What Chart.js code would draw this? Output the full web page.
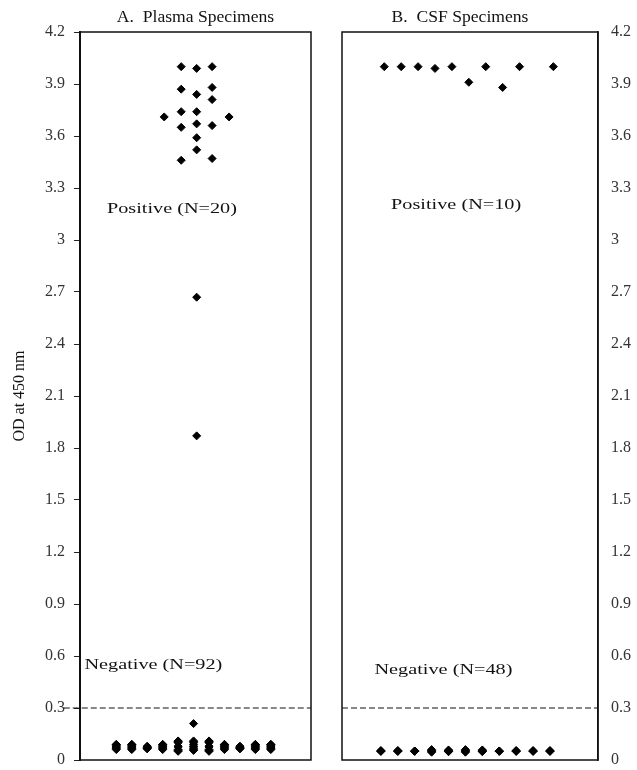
<!DOCTYPE html>
<html>
<head>
<meta charset="utf-8">
<script src="https://cdn.jsdelivr.net/npm/chart.js@4.4.1/dist/chart.umd.min.js"></script>
<style>
  html, body { margin: 0; padding: 0; background: #fff; }
  #wrap { position: relative; width: 637px; height: 770px; }
  canvas { position: absolute; top: 0; }
  #plasma { left: 0; }
  #csf { left: 320px; }
</style>
</head>
<body>
<div id="wrap">
  <canvas id="plasma" width="320" height="770"></canvas>
  <canvas id="csf" width="317" height="770"></canvas>
</div>
<script>
// y axis ticks (OD at 450 nm)
const yTicks = [0, 0.3, 0.6, 0.9, 1.2, 1.5, 1.8, 2.1, 2.4, 2.7, 3, 3.3, 3.6, 3.9, 4.2];
const cutoff = 0.3;

// A. Plasma – positive specimens, by column position
const plasmaPosCols = [3.1, 4.2, 5.2, 6.2, 7.3];
const plasmaPosVals = [
  [3.71],
  [4.00, 3.87, 3.74, 3.65, 3.46],
  [3.99, 3.84, 3.74, 3.67, 3.59, 3.52, 2.67, 1.87],
  [4.00, 3.88, 3.81, 3.66, 3.47],
  [3.71]
];

// A. Plasma – negative specimens (columns 0..10)
const plasmaNegVals = [
  [0.06, 0.065, 0.07, 0.075, 0.08, 0.085, 0.09, 0.09],
  [0.06, 0.065, 0.07, 0.075, 0.08, 0.085, 0.09, 0.09],
  [0.065, 0.065, 0.07, 0.07, 0.07, 0.075, 0.075, 0.08],
  [0.06, 0.065, 0.07, 0.075, 0.08, 0.085, 0.09, 0.09],
  [0.05, 0.055, 0.06, 0.075, 0.08, 0.1, 0.105, 0.105, 0.11],
  [0.055, 0.06, 0.065, 0.075, 0.08, 0.09, 0.1, 0.105, 0.11, 0.21],
  [0.05, 0.055, 0.06, 0.075, 0.08, 0.1, 0.105, 0.105, 0.11],
  [0.06, 0.065, 0.07, 0.075, 0.08, 0.085, 0.09, 0.09],
  [0.065, 0.065, 0.07, 0.07, 0.07, 0.075, 0.075, 0.08],
  [0.06, 0.065, 0.07, 0.075, 0.08, 0.085, 0.09, 0.09],
  [0.06, 0.065, 0.07, 0.075, 0.08, 0.085, 0.09, 0.09]
];

// B. CSF – positive specimens
const csfPosX = [0.2, 1.2, 2.2, 3.2, 4.2, 5.2, 6.2, 7.2, 8.2, 10.2];
const csfPosY = [4.00, 4.00, 4.00, 3.99, 4.00, 3.91, 4.00, 3.88, 4.00, 4.00];

// B. CSF – negative specimens (columns 0..10)
const csfNegVals = [
  [0.05, 0.05, 0.052, 0.055],
  [0.05, 0.05, 0.052, 0.055],
  [0.05, 0.05, 0.052, 0.052],
  [0.045, 0.05, 0.052, 0.055, 0.06],
  [0.048, 0.05, 0.052, 0.055, 0.058],
  [0.045, 0.05, 0.052, 0.055, 0.06],
  [0.048, 0.05, 0.052, 0.055, 0.058],
  [0.05, 0.05, 0.052, 0.052],
  [0.05, 0.05, 0.052, 0.055],
  [0.05, 0.05, 0.052, 0.055],
  [0.05, 0.05, 0.052, 0.055]
];

const SERIF = '"Liberation Serif", "Times New Roman", serif';
Chart.defaults.font.family = SERIF;
Chart.defaults.color = '#222';

function columnsToPoints(xs, cols) {
  const pts = [];
  cols.forEach((vals, i) => vals.forEach(v => pts.push({ x: xs ? xs[i] : i, y: v })));
  return pts;
}

// frame around plot area + title + in-plot labels
const panelDeco = {
  id: 'panelDeco',
  afterDraw(chart, args, opts) {
    const { ctx, chartArea: a, scales } = chart;
    ctx.save();
    ctx.strokeStyle = '#111';
    ctx.lineWidth = 1.5;
    ctx.strokeRect(a.left, a.top, a.right - a.left, a.bottom - a.top);

    ctx.fillStyle = '#111';
    ctx.textAlign = 'center';
    ctx.textBaseline = 'middle';
    ctx.font = '16px ' + SERIF;
    ctx.save();
    ctx.translate((a.left + a.right) / 2 + (opts.titleShift || 0), 18);
    ctx.scale(1.1, 1);
    ctx.fillText(opts.title, 0, 0);
    ctx.restore();

    ctx.font = '15px ' + SERIF;
    (opts.notes || []).forEach(n => {
      ctx.save();
      ctx.translate(scales.x.getPixelForValue(n.x), scales.y.getPixelForValue(n.y));
      ctx.scale(1.35, 1);
      ctx.fillText(n.text, 0, 0);
      ctx.restore();
    });
    ctx.restore();
  }
};

const markerStyle = {
  pointStyle: 'rectRot',
  pointRadius: 4,
  pointHoverRadius: 4,
  backgroundColor: '#000',
  borderColor: '#000',
  borderWidth: 1
};

function yScale(position, width, extra) {
  return Object.assign({
    type: 'linear',
    position: position,
    min: 0,
    max: 4.2,
    afterBuildTicks: s => { s.ticks = yTicks.map(v => ({ value: v })); },
    afterFit: s => {
      s.width = width;
      s.paddingTop = 0;
      s.paddingBottom = 0;
    },
    ticks: {
      color: '#333',
      font: { size: 16, family: SERIF },
      callback: v => String(v)
    }
  }, extra);
}

// A. Plasma Specimens
new Chart(document.getElementById('plasma'), {
  type: 'scatter',
  data: {
    datasets: [
      Object.assign({ label: 'Positive', data: columnsToPoints(plasmaPosCols, plasmaPosVals) }, markerStyle),
      Object.assign({ label: 'Negative', data: columnsToPoints(null, plasmaNegVals) }, markerStyle),
      {
        type: 'line',
        label: 'Cut-off',
        data: [{ x: -3.4, y: cutoff }, { x: 12.6, y: cutoff }],
        borderColor: '#111',
        borderWidth: 1,
        borderDash: [6, 3],
        pointRadius: 0,
        clip: { left: 20, top: 0, right: 0, bottom: 0 }
      }
    ]
  },
  options: {
    responsive: false,
    animation: false,
    layout: { padding: { left: 0, right: 9, top: 32, bottom: 10 } },
    plugins: {
      legend: { display: false },
      tooltip: { enabled: false },
      panelDeco: {
        title: 'A.  Plasma Specimens',
        titleShift: 0,
        notes: [
          { text: 'Positive (N=20)', x: 3.6, y: 3.18 },
          { text: 'Negative (N=92)', x: 2.4, y: 0.55 }
        ]
      }
    },
    scales: {
      x: { type: 'linear', min: -2.35, max: 12.6, display: false },
      y: yScale('left', 80, {
        title: { display: true, text: 'OD at 450 nm', color: '#111', font: { size: 16, family: SERIF }, padding: { top: 10, bottom: 0 } },
        grid: { drawOnChartArea: false, drawTicks: true, tickLength: 6, color: '#222', lineWidth: 1 },
        border: { display: true, color: '#111', width: 2 },
        ticks: {
          color: '#333',
          padding: 9,
          font: { size: 16, family: SERIF },
          callback: v => String(v)
        }
      })
    }
  },
  plugins: [panelDeco]
});

// B. CSF Specimens
new Chart(document.getElementById('csf'), {
  type: 'scatter',
  data: {
    datasets: [
      Object.assign({ label: 'Positive', data: csfPosX.map((x, i) => ({ x: x, y: csfPosY[i] })) }, markerStyle),
      Object.assign({ label: 'Negative', data: columnsToPoints(null, csfNegVals) }, markerStyle),
      {
        type: 'line',
        label: 'Cut-off',
        data: [{ x: -2.3, y: cutoff }, { x: 12.84, y: cutoff }],
        borderColor: '#111',
        borderWidth: 1,
        borderDash: [6, 3],
        pointRadius: 0
      }
    ]
  },
  options: {
    responsive: false,
    animation: false,
    layout: { padding: { left: 22, right: 0, top: 32, bottom: 10 } },
    plugins: {
      legend: { display: false },
      tooltip: { enabled: false },
      panelDeco: {
        title: 'B.  CSF Specimens',
        titleShift: -10,
        notes: [
          { text: 'Positive (N=10)', x: 4.45, y: 3.2 },
          { text: 'Negative (N=48)', x: 3.7, y: 0.52 }
        ]
      }
    },
    scales: {
      x: { type: 'linear', min: -2.3, max: 12.84, display: false },
      y: yScale('right', 39, {
        grid: { drawOnChartArea: false, drawTicks: false },
        border: { display: true, color: '#111', width: 1.5 },
        ticks: {
          color: '#333',
          padding: 13,
          font: { size: 16, family: SERIF },
          callback: v => String(v)
        }
      })
    }
  },
  plugins: [panelDeco]
});
</script>
</body>
</html>
